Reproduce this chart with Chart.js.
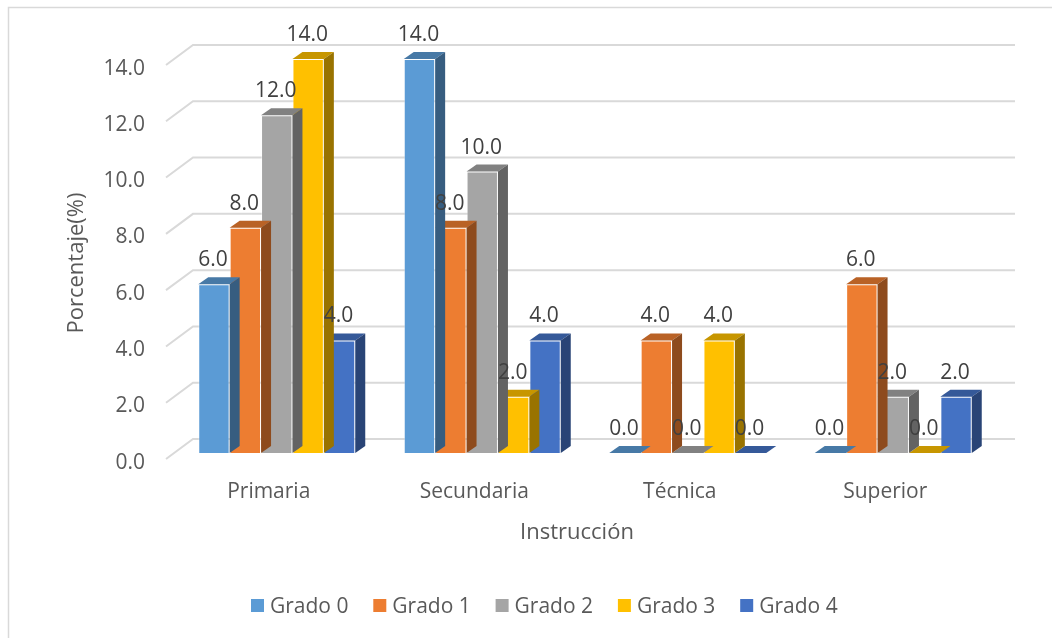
<!DOCTYPE html>
<html>
<head>
<meta charset="utf-8">
<script src="https://cdn.jsdelivr.net/npm/chart.js@4.4.1/dist/chart.umd.min.js"></script>
<style>
  html, body { margin: 0; padding: 0; background: #fff; }
  canvas { display: block; }
</style>
</head>
<body>
<canvas id="chart" width="1052" height="638"></canvas>
<script>
// data
const categories = ['Primaria', 'Secundaria', 'Técnica', 'Superior'];
const seriesNames = ['Grado 0', 'Grado 1', 'Grado 2', 'Grado 3', 'Grado 4'];
const grado0 = [6, 14, 0, 0];
const grado1 = [8, 8, 4, 6];
const grado2 = [12, 10, 0, 2];
const grado3 = [14, 2, 4, 0];
const grado4 = [4, 4, 0, 2];
const yTicks = [0, 2, 4, 6, 8, 10, 12, 14];

const seriesValues = [grado0, grado1, grado2, grado3, grado4];
const colors = ['#5b9bd5', '#ed7d31', '#a5a5a5', '#ffc000', '#4472c4'];

// fake 3d offsets (screen px)
const BAR_DX = 10, BAR_DY = -7;
const WALL_DX = 19, WALL_DY = -14;
const FLOOR_DX = -8, FLOOR_DY = 6;

const FONT = '"Open Sans", "Liberation Sans", sans-serif';
const TEXT = '#595959';

function shade(hex, f) {
  const n = parseInt(hex.slice(1), 16);
  const r = Math.round(((n >> 16) & 255) * f);
  const g = Math.round(((n >> 8) & 255) * f);
  const b = Math.round((n & 255) * f);
  return `rgb(${r},${g},${b})`;
}

function poly(ctx, pts) {
  ctx.beginPath();
  ctx.moveTo(pts[0][0], pts[0][1]);
  for (let i = 1; i < pts.length; i++) ctx.lineTo(pts[i][0], pts[i][1]);
  ctx.closePath();
  ctx.fill();
}

const depth3d = {
  id: 'depth3d',
  beforeDatasetsDraw(chart) {
    const { ctx, chartArea: a, scales: { y } } = chart;
    ctx.save();
    // outer frame (left + top only)
    ctx.strokeStyle = '#d9d9d9';
    ctx.lineWidth = 1.5;
    ctx.beginPath();
    ctx.moveTo(8.5, 640);
    ctx.lineTo(8.5, 7.5);
    ctx.lineTo(1060, 7.5);
    ctx.stroke();

    // back wall gridlines + side wall diagonals
    ctx.lineWidth = 2;
    ctx.font = '21px ' + FONT;
    ctx.textAlign = 'right';
    ctx.textBaseline = 'alphabetic';
    yTicks.forEach(v => {
      const py = y.getPixelForValue(v);
      ctx.strokeStyle = '#d9d9d9';
      ctx.beginPath();
      ctx.moveTo(a.left + FLOOR_DX, py + FLOOR_DY);
      ctx.lineTo(a.left + WALL_DX, py + WALL_DY);
      ctx.lineTo(a.right + WALL_DX, py + WALL_DY);
      ctx.stroke();
      ctx.fillStyle = TEXT;
      ctx.fillText(v.toFixed(1), 145, py + 15.5);
    });
    ctx.restore();
  },
  afterDatasetDraw(chart, args) {
    const ctx = chart.ctx;
    const color = colors[args.index];
    ctx.save();
    args.meta.data.forEach(bar => {
      const { x, y, base, width } = bar.getProps(['x', 'y', 'base', 'width'], true);
      const l = x - width / 2, r = x + width / 2;
      ctx.fillStyle = shade(color, 0.78);
      poly(ctx, [[l, y], [r, y], [r + BAR_DX, y + BAR_DY], [l + BAR_DX, y + BAR_DY]]);
      if (base - y > 0.5) {
        ctx.fillStyle = shade(color, 0.6);
        poly(ctx, [[r, y], [r + BAR_DX, y + BAR_DY], [r + BAR_DX, base + BAR_DY], [r, base]]);
      }
    });
    ctx.restore();
  },
  afterDraw(chart) {
    const { ctx, scales: { x } } = chart;
    ctx.save();

    // value labels
    ctx.font = '21px ' + FONT;
    ctx.textAlign = 'center';
    ctx.textBaseline = 'alphabetic';
    ctx.fillStyle = '#404040';
    chart.data.datasets.forEach((ds, k) => {
      chart.getDatasetMeta(k).data.forEach((bar, i) => {
        const p = bar.getProps(['x', 'y'], true);
        ctx.fillText(ds.data[i].toFixed(1), p.x - 1, p.y - 18);
      });
    });

    // category labels
    ctx.fillStyle = TEXT;
    categories.forEach((c, i) => {
      ctx.fillText(c, x.getPixelForValue(i) + FLOOR_DX, 498);
    });

    // axis titles
    ctx.font = '22px ' + FONT;
    ctx.fillText('Instrucción', 577, 539);
    ctx.save();
    ctx.translate(83, 263);
    ctx.rotate(-Math.PI / 2);
    ctx.fillText('Porcentaje(%)', 0, 0);
    ctx.restore();

    // legend
    ctx.font = '21px ' + FONT;
    ctx.textAlign = 'left';
    const box = 13, step = 122.3;
    seriesNames.forEach((n, k) => {
      const lx = 251 + k * step;
      ctx.fillStyle = colors[k];
      ctx.fillRect(lx, 599, box, box);
      ctx.fillStyle = TEXT;
      ctx.fillText(n, lx + 19, 613);
    });
    ctx.restore();
  }
};

new Chart(document.getElementById('chart'), {
  type: 'bar',
  data: {
    labels: categories,
    datasets: seriesValues.map((d, k) => ({
      label: seriesNames[k],
      data: d,
      backgroundColor: colors[k],
      borderColor: 'rgba(255,255,255,0.35)',
      borderWidth: 1,
      categoryPercentage: 0.764,
      barPercentage: 1
    }))
  },
  options: {
    responsive: false,
    animation: false,
    devicePixelRatio: 1,
    layout: { padding: { left: 174, right: 56, top: 59, bottom: 185 } },
    scales: {
      x: { display: false },
      y: { display: false, min: 0, max: 14 }
    },
    plugins: { legend: { display: false }, tooltip: { enabled: false } }
  },
  plugins: [depth3d]
});
</script>
</body>
</html>
